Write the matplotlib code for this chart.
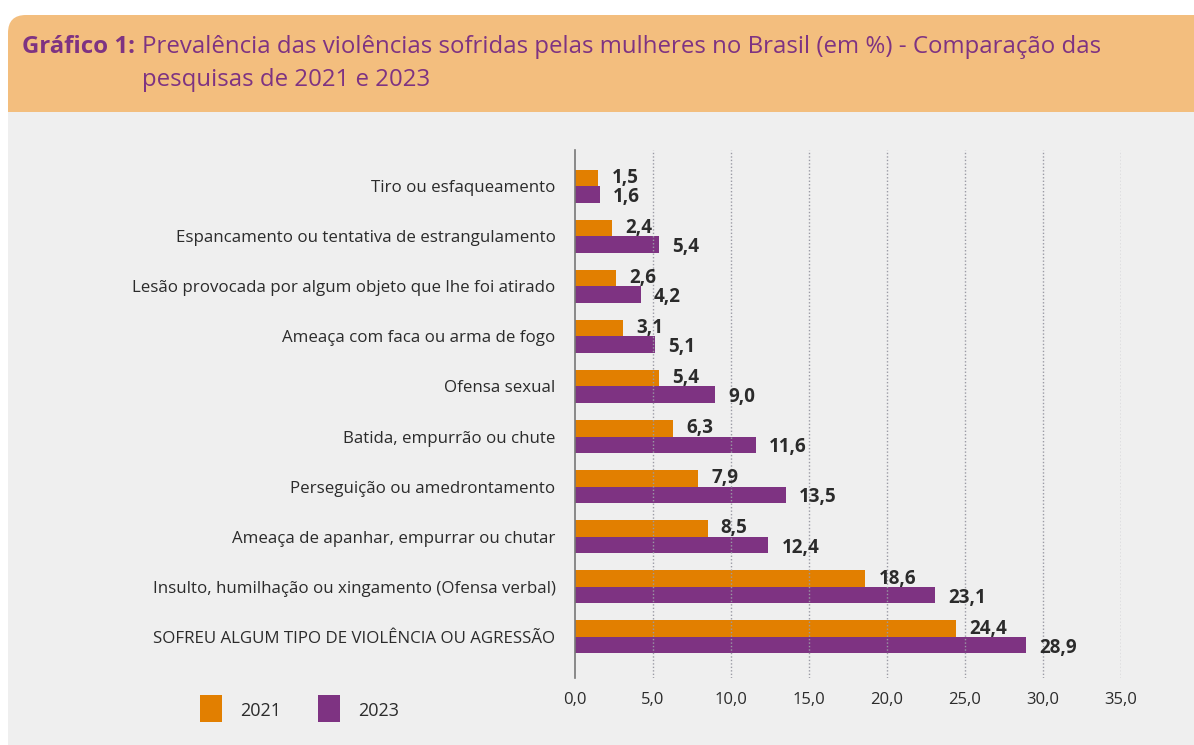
import matplotlib.pyplot as plt
from matplotlib.patches import FancyBboxPatch, Rectangle

# ---- DADOS ----
categorias = [
    "Tiro ou esfaqueamento",
    "Espancamento ou tentativa de estrangulamento",
    "Lesão provocada por algum objeto que lhe foi atirado",
    "Ameaça com faca ou arma de fogo",
    "Ofensa sexual",
    "Batida, empurrão ou chute",
    "Perseguição ou amedrontamento",
    "Ameaça de apanhar, empurrar ou chutar",
    "Insulto, humilhação ou xingamento (Ofensa verbal)",
    "SOFREU ALGUM TIPO DE VIOLÊNCIA OU AGRESSÃO",
]
v2021 = [1.5, 2.4, 2.6, 3.1, 5.4, 6.3, 7.9, 8.5, 18.6, 24.4]
v2023 = [1.6, 5.4, 4.2, 5.1, 9.0, 11.6, 13.5, 12.4, 23.1, 28.9]
ticks = [0, 5, 10, 15, 20, 25, 30, 35]
anos = ["2021", "2023"]
# ----------------

LARANJA = "#E27F00"
ROXO = "#7E3382"
TXT = "#2b2b2b"
FONTE = ["Open Sans", "DejaVu Sans"]
plt.rcParams["font.family"] = FONTE

W, H = 1194, 745
fig = plt.figure(figsize=(W / 100, H / 100), dpi=100, facecolor="white")

# fundo cinza e faixa do título
fig.patches.append(FancyBboxPatch((8 / W, 1 - 112 / H), 1.2, (112 - 15) / H,
                                  boxstyle="round,pad=0,rounding_size=0.015",
                                  transform=fig.transFigure, facecolor="#F3BE7E",
                                  edgecolor="none", zorder=-3, mutation_aspect=W / H))
fig.patches.append(Rectangle((8 / W, 1 - 112 / H), 1, 40 / H, transform=fig.transFigure,
                             facecolor="#F3BE7E", edgecolor="none", zorder=-3))
fig.patches.append(Rectangle((8 / W, 0), 1, 1 - 112 / H, transform=fig.transFigure,
                             facecolor="#EFEFEF", edgecolor="none", zorder=-3))

fig.text(22 / W, 1 - 47 / H, "Gráfico 1:", color=ROXO, fontsize=17.3,
         fontweight="bold", va="center", ha="left")
fig.text(142 / W, 1 - 47 / H,
         "Prevalência das violências sofridas pelas mulheres no Brasil (em %) - Comparação das",
         color=ROXO, fontsize=17.3, va="center", ha="left")
fig.text(142 / W, 1 - 80 / H, "pesquisas de 2021 e 2023", color=ROXO, fontsize=17.3,
         va="center", ha="left")

ax = fig.add_axes([575 / W, 1 - 678 / H, (1121 - 575) / W, (678 - 150) / H])
ax.set_facecolor("none")

n = len(categorias)
y = [n - 1 - i for i in range(n)]
h = 0.33
y21 = [p + h / 2 for p in y]
y23 = [p - h / 2 for p in y]
ax.barh(y21, v2021, height=h, color=LARANJA, zorder=1)
ax.barh(y23, v2023, height=h, color=ROXO, zorder=1)

for yy, v in zip(y21, v2021):
    ax.text(v + 0.85, yy, f"{v:.1f}".replace(".", ","), va="center", ha="left",
            fontsize=13.5, fontweight="bold", color=TXT, zorder=3)
for yy, v in zip(y23, v2023):
    ax.text(v + 0.85, yy - 0.05, f"{v:.1f}".replace(".", ","), va="center", ha="left",
            fontsize=13.5, fontweight="bold", color=TXT, zorder=3)

ax.set_xlim(0, 35)
ax.set_ylim(-0.82, n - 1 + 0.72)
ax.set_yticks(y)
ax.set_yticklabels(categorias, fontsize=12.2, color=TXT)
ax.set_xticks(ticks)
ax.set_xticklabels([f"{t:.1f}".replace(".", ",") for t in ticks], fontsize=12, color=TXT)
ax.tick_params(axis="y", length=0, pad=14)
ax.tick_params(axis="x", length=0, pad=10)

for t in ticks[1:]:
    ax.axvline(t, color="#9a9aa4", lw=1, ls=(0, (1, 1.5)), zorder=2)
for s in ["top", "right", "bottom"]:
    ax.spines[s].set_visible(False)
ax.spines["left"].set_color("#777777")
ax.spines["left"].set_linewidth(1.2)
ax.spines["left"].set_zorder(2)

# legenda
for x0, cor, ano in [(200, LARANJA, anos[0]), (318, ROXO, anos[1])]:
    fig.patches.append(Rectangle((x0 / W, 1 - 722 / H), 22 / W, 27 / H,
                                 transform=fig.transFigure, facecolor=cor,
                                 edgecolor="none"))
    fig.text((x0 + 40) / W, 1 - 711 / H, ano, fontsize=13, color=TXT,
             va="center", ha="left")

fig.savefig("out.png", dpi=100, facecolor=fig.get_facecolor())
